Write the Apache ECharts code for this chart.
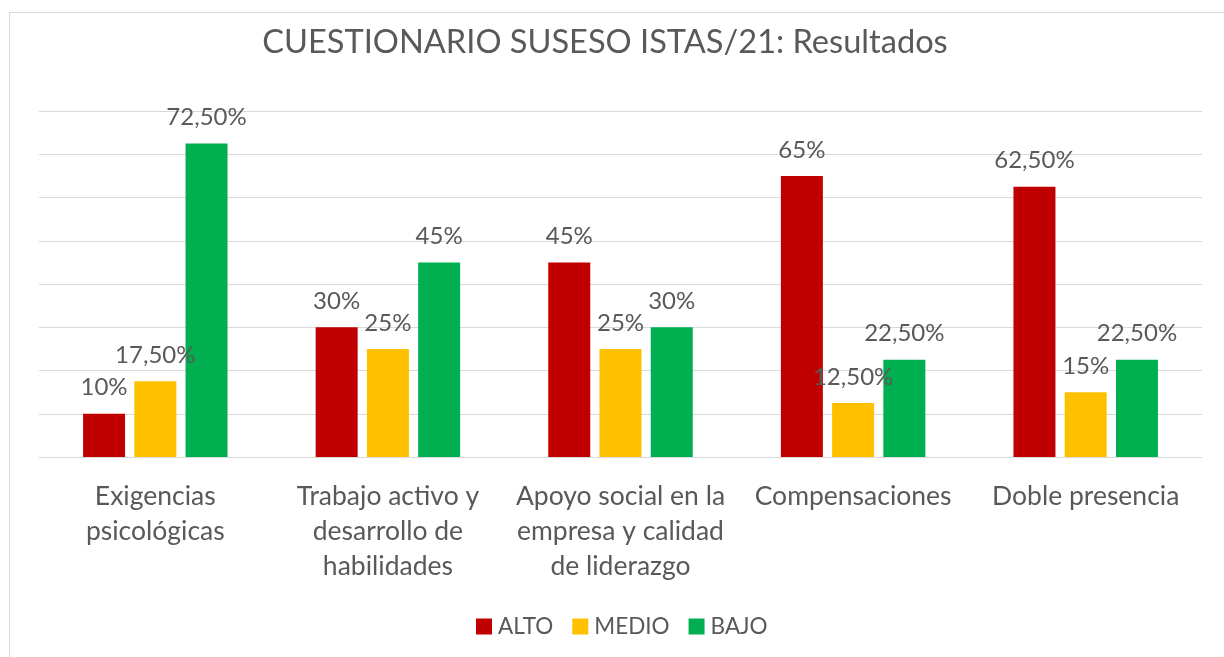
<!DOCTYPE html>
<html>
<head>
<meta charset="utf-8">
<script src="https://cdn.jsdelivr.net/npm/echarts@6/dist/echarts.min.js"></script>
<style>
html,body{margin:0;padding:0;background:#fff;}
#chart{width:1224px;height:657px;}
</style>
</head>
<body>
<div id="chart"></div>
<script>
const categories = [
  "Exigencias\npsicológicas",
  "Trabajo activo y\ndesarrollo de\nhabilidades",
  "Apoyo social en la\nempresa y calidad\nde liderazgo",
  "Compensaciones",
  "Doble presencia"
];
const seriesNames = ["ALTO", "MEDIO", "BAJO"];
const alto = [10, 30, 45, 65, 62.5];
const medio = [17.5, 25, 25, 12.5, 15];
const bajo = [72.5, 45, 30, 22.5, 22.5];
const colors = ["#C00000", "#FFC000", "#00B050"];

const FONT = "Lato";
const TXT = "#595959";

function fmt(p) {
  const v = p.value;
  if (Number.isInteger(v)) return v + "%";
  return v.toFixed(2).replace(".", ",") + "%";
}

function mk(name, data, color) {
  return {
    name: name,
    type: "bar",
    data: data,
    barWidth: 42,
    barGap: "22%",
    itemStyle: { color: color },
    label: {
      show: true,
      position: "top",
      distance: 14,
      formatter: fmt,
      fontFamily: FONT,
      fontSize: 24,
      color: TXT
    }
  };
}

const chart = echarts.init(document.getElementById("chart"), null, { renderer: "canvas" });
chart.setOption({
  backgroundColor: "#fff",
  animation: false,
  title: {
    text: "CUESTIONARIO SUSESO ISTAS/21: Resultados",
    left: 600,
    textAlign: "center",
    top: 21,
    textStyle: { fontFamily: FONT, fontWeight: "normal", fontSize: 32.6, color: TXT }
  },
  legend: {
    bottom: 14,
    left: 471,
    itemWidth: 16,
    itemHeight: 16,
    itemGap: 19,
    icon: "rect",
    textStyle: { fontFamily: FONT, fontSize: 22.5, color: TXT, padding: [0, 0, 0, 1] },
    data: seriesNames
  },
  grid: { left: 39, right: 22, top: 111, bottom: 200, containLabel: false },
  xAxis: {
    type: "category",
    data: categories,
    axisLine: { show: true, lineStyle: { color: "#d9d9d9", width: 1 } },
    axisTick: { show: false },
    axisLabel: {
      fontFamily: FONT,
      fontSize: 26.5,
      color: TXT,
      lineHeight: 35,
      margin: 22,
      interval: 0
    }
  },
  yAxis: {
    type: "value",
    min: 0,
    max: 80,
    interval: 10,
    axisLabel: { show: false },
    axisLine: { show: false },
    axisTick: { show: false },
    splitLine: { lineStyle: { color: "#d9d9d9", width: 1 } }
  },
  graphic: [
    {
      type: "polyline",
      shape: { points: [[9.5, 700], [9.5, 12.5], [1230, 12.5]] },
      style: { stroke: "#d9d9d9", fill: null, lineWidth: 1 },
      silent: true
    }
  ],
  series: [
    mk(seriesNames[0], alto, colors[0]),
    mk(seriesNames[1], medio, colors[1]),
    mk(seriesNames[2], bajo, colors[2])
  ]
});
</script>
</body>
</html>
